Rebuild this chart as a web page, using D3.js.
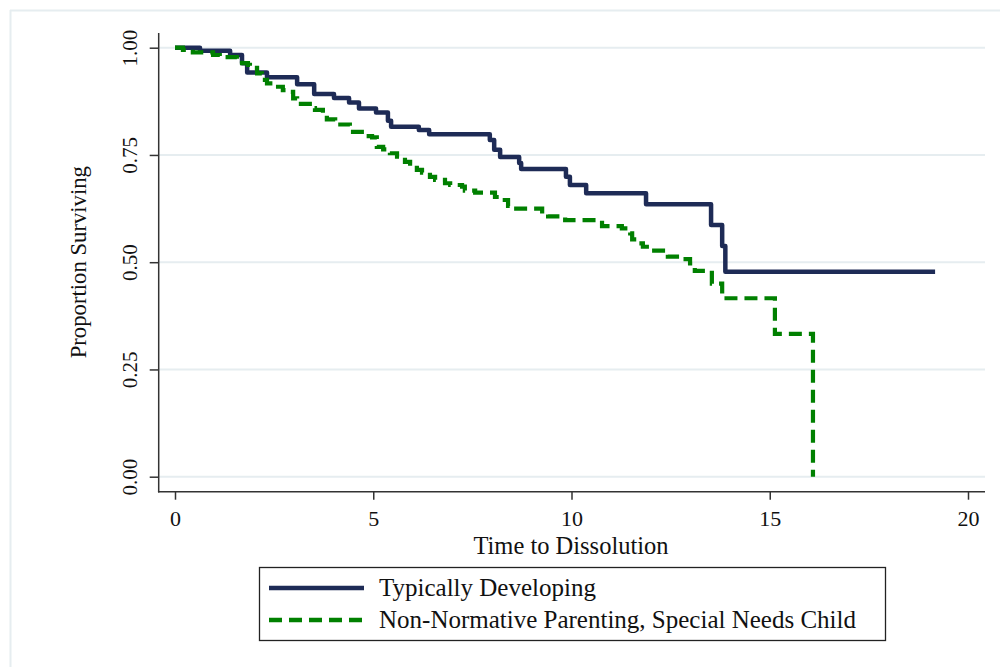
<!DOCTYPE html>
<html>
<head>
<meta charset="utf-8">
<script src="https://cdn.jsdelivr.net/npm/d3@7"></script>
<style>
  html, body { margin: 0; padding: 0; background: #fff; }
  svg { display: block; }
  text { font-family: "Liberation Serif", "Times New Roman", serif; fill: #111; }
</style>
</head>
<body>
<svg id="chart" width="1000" height="667"></svg>
<script>
// Kaplan-Meier survival estimates: time of each step and survival after it
const typicalTimes = [0, 0.63, 1.39, 1.69, 1.82, 2.32, 3.08, 3.51, 4.01, 4.39, 4.64, 5.07, 5.37, 5.45,
  6.15, 6.41, 7.94, 8.05, 8.2, 8.68, 8.73, 9.86, 9.96, 10.37, 11.88, 13.52, 13.8, 13.88, 19.17];
const typicalSurv = [1.0, 0.993, 0.983, 0.964, 0.942, 0.931, 0.915, 0.892, 0.883, 0.872, 0.858, 0.849, 0.83, 0.816,
  0.808, 0.798, 0.785, 0.762, 0.745, 0.731, 0.717, 0.699, 0.68, 0.661, 0.635, 0.587, 0.538, 0.478, 0.478];

const specialTimes = [0, 0.2, 0.45, 0.96, 1.13, 1.56, 1.69, 1.84, 1.89, 2.07, 2.19, 2.32, 2.47, 2.72, 2.82, 2.98,
  3.08, 3.4, 3.53, 3.73, 3.83, 4.04, 4.41, 4.49, 4.79, 4.97, 5.09, 5.25, 5.42, 5.6, 5.8, 5.93, 6.1, 6.23, 6.43,
  6.56, 6.81, 6.94, 7.24, 7.31, 7.57, 8.07, 8.2, 8.4, 8.52, 9.26, 9.41, 9.84, 10.77, 11.27, 11.48, 11.53, 11.68,
  11.8, 12.03, 12.43, 12.66, 12.99, 13.11, 13.54, 13.8, 15.13, 16.09];
const specialSurv = [1.0, 0.995, 0.989, 0.983, 0.978, 0.97, 0.964, 0.96, 0.953, 0.94, 0.925, 0.917, 0.909, 0.901, 0.897, 0.882,
  0.869, 0.859, 0.855, 0.843, 0.833, 0.821, 0.81, 0.804, 0.794, 0.791, 0.769, 0.763, 0.754, 0.746, 0.734, 0.73, 0.715, 0.709, 0.699,
  0.692, 0.684, 0.68, 0.676, 0.667, 0.662, 0.652, 0.645, 0.631, 0.625, 0.613, 0.607, 0.598, 0.584, 0.579, 0.567, 0.553, 0.544,
  0.536, 0.527, 0.513, 0.507, 0.497, 0.48, 0.45, 0.416, 0.333, 0.0];

const xTicks = [0, 5, 10, 15, 20];
const yTicks = [0, 0.25, 0.5, 0.75, 1.0];
const yTickLabels = ["0.00", "0.25", "0.50", "0.75", "1.00"];
const seriesNames = ["Typically Developing", "Non-Normative Parenting, Special Needs Child"];

const navy = "#1e2b56";
const green = "#008000";
const gridColor = "#e6edf0";
const axisColor = "#333";

const svg = d3.select("#chart");
svg.append("rect").attr("width", 1000).attr("height", 667).attr("fill", "#fff");

// outer frame of the graph region
svg.append("line").attr("x1", 10).attr("x2", 1000).attr("y1", 10.5).attr("y2", 10.5)
  .attr("stroke", gridColor).attr("stroke-width", 2);
svg.append("line").attr("x1", 10.5).attr("x2", 10.5).attr("y1", 10).attr("y2", 667)
  .attr("stroke", gridColor).attr("stroke-width", 2);

const x = d3.scaleLinear().domain([0, 20]).range([175, 968]);
const y = d3.scaleLinear().domain([0, 1]).range([476.7, 47.7]);

const plotLeft = 158.7, plotRight = 985, plotTop = 33, plotBottom = 491.7;

// horizontal gridlines
svg.append("g").selectAll("line").data(yTicks).join("line")
  .attr("x1", plotLeft).attr("x2", plotRight)
  .attr("y1", d => y(d)).attr("y2", d => y(d))
  .attr("stroke", gridColor).attr("stroke-width", 2);

// y axis
const yAxis = svg.append("g").attr("transform", `translate(${plotLeft},0)`)
  .call(d3.axisLeft(y).tickValues(yTicks).tickSize(9).tickFormat((d, i) => yTickLabels[i]));
yAxis.select(".domain").remove();
yAxis.selectAll(".tick line").attr("stroke", axisColor).attr("stroke-width", 1.5);
yAxis.selectAll(".tick text")
  .attr("transform", "translate(-22,0) rotate(-90)")
  .attr("x", 0).attr("y", 0)
  .attr("dy", 0)
  .attr("text-anchor", "middle")
  .style("font-family", "'Liberation Serif', serif")
  .style("font-size", "21px").attr("fill", "#111");

// x axis
const xAxis = svg.append("g").attr("transform", `translate(0,${plotBottom})`)
  .call(d3.axisBottom(x).tickValues(xTicks).tickSize(8).tickFormat(d3.format("d")));
xAxis.select(".domain").remove();
xAxis.selectAll(".tick line").attr("stroke", axisColor).attr("stroke-width", 1.5);
xAxis.selectAll(".tick text")
  .attr("y", 34).attr("dy", 0)
  .style("font-family", "'Liberation Serif', serif")
  .style("font-size", "22px").attr("fill", "#111");

svg.append("line").attr("x1", plotLeft).attr("x2", plotLeft).attr("y1", plotTop).attr("y2", plotBottom + 0.75)
  .attr("stroke", axisColor).attr("stroke-width", 1.5);
svg.append("line").attr("x1", plotLeft - 0.75).attr("x2", plotRight).attr("y1", plotBottom).attr("y2", plotBottom)
  .attr("stroke", axisColor).attr("stroke-width", 1.5);

// axis titles
svg.append("text").attr("transform", `translate(86,${y(0.5)}) rotate(-90)`)
  .attr("text-anchor", "middle").style("font-size", "22.7px").text("Proportion Surviving");
svg.append("text").attr("x", 571).attr("y", 554)
  .attr("text-anchor", "middle").style("font-size", "24.5px").text("Time to Dissolution");

// survival curves
const step = d3.line().x(d => x(d[0])).y(d => y(d[1])).curve(d3.curveStepAfter);
const typicalPts = typicalTimes.map((t, i) => [t, typicalSurv[i]]);
const specialPts = specialTimes.map((t, i) => [t, specialSurv[i]]);

svg.append("path").attr("d", step(typicalPts))
  .attr("fill", "none").attr("stroke", navy).attr("stroke-width", 4.5)
  .attr("stroke-linejoin", "round");
svg.append("path").attr("d", step(specialPts))
  .attr("fill", "none").attr("stroke", green).attr("stroke-width", 4.2)
  .attr("stroke-dasharray", "13,7");

// legend
const legend = svg.append("g");
legend.append("rect").attr("x", 259.5).attr("y", 567.5).attr("width", 626).attr("height", 73)
  .attr("fill", "#fff").attr("stroke", "#222").attr("stroke-width", 1.3);
const rows = [
  { name: seriesNames[0], color: navy, dash: null, yy: 588 },
  { name: seriesNames[1], color: green, dash: "13,7", yy: 620 }
];
rows.forEach(r => {
  legend.append("line").attr("x1", 269).attr("x2", 364).attr("y1", r.yy).attr("y2", r.yy)
    .attr("stroke", r.color).attr("stroke-width", 4.5)
    .attr("stroke-dasharray", r.dash);
  legend.append("text").attr("x", 379).attr("y", r.yy + 8)
    .style("font-size", "25px").text(r.name);
});
</script>
</body>
</html>
